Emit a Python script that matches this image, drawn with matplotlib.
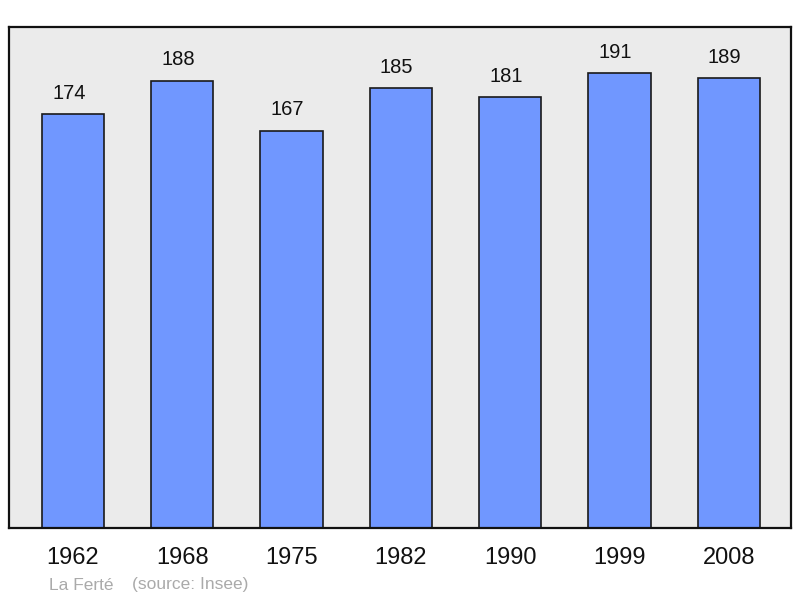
import matplotlib
matplotlib.use("Agg")
import matplotlib.pyplot as plt

years = ["1962", "1968", "1975", "1982", "1990", "1999", "2008"]
population = [174, 188, 167, 185, 181, 191, 189]

plt.rcParams['font.family'] = ['Liberation Sans', 'DejaVu Sans']

fig = plt.figure(figsize=(8, 5.98), dpi=100)
ax = fig.add_axes([9/800, 70/598, 782/800, 501/598])
ax.set_facecolor('#ebebeb')

x = list(range(len(years)))
ax.bar(x, population, width=0.57, color='#7097ff', edgecolor='#1a1a1a', linewidth=1.2, zorder=2)
for xi, v in zip(x, population):
    ax.annotate(str(v), (xi, v), xytext=(-3, 8), textcoords='offset points',
                ha='center', va='bottom', fontsize=14.5, color='#111111')

ax.set_xlim(-0.586, 6.57)
ax.set_ylim(0, 210.5)
ax.set_xticks(x)
ax.set_xticklabels(years, fontsize=17, color='#111111')
ax.tick_params(axis='x', length=0, pad=14)
ax.set_yticks([])
for s in ax.spines.values():
    s.set_linewidth(1.6)
    s.set_color('#111111')

fig.text(49/800, 1 - 585/598, "La Ferté", fontsize=12.5, color='#aaaaaa', va='center', ha='left')
fig.text(132/800, 1 - 585/598, "(source: Insee)", fontsize=12.5, color='#aaaaaa', va='center', ha='left')

fig.savefig("out.png", dpi=100, facecolor='white')
